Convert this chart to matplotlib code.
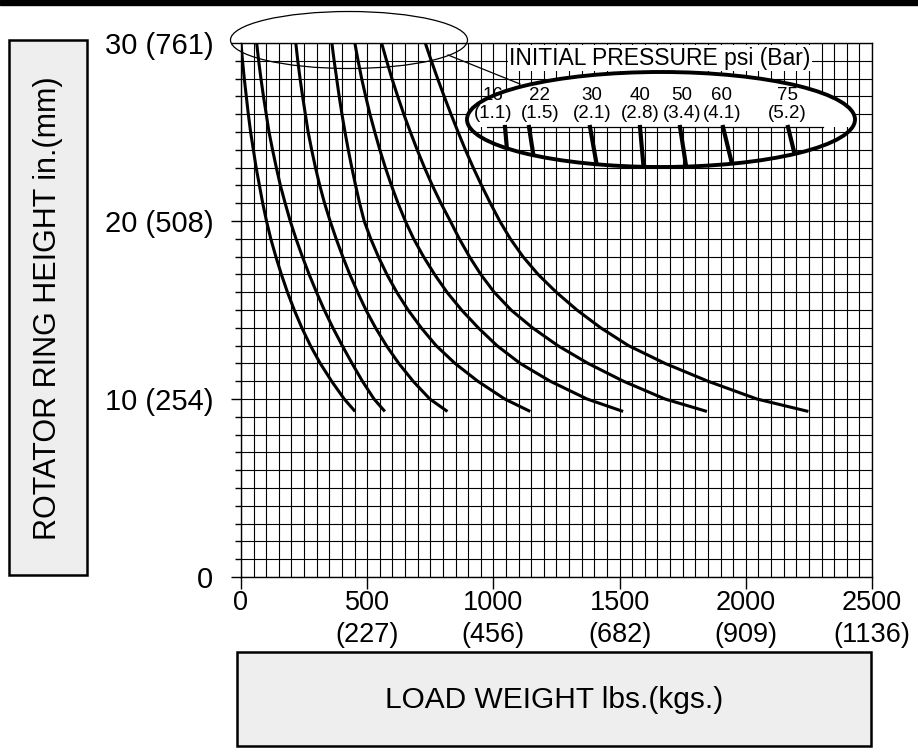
import matplotlib
matplotlib.use("Agg")
import matplotlib.pyplot as plt
from matplotlib.patches import Ellipse, Rectangle
from matplotlib.ticker import MultipleLocator

plt.rcParams['font.family'] = ['Liberation Sans', 'DejaVu Sans']

heights = [30, 29, 28, 27, 26, 25, 24, 23, 22, 21, 20,
           19, 18, 17, 16, 15, 14, 13, 12, 11, 10, 9.3]

# load weight (lbs) for each initial pressure
load_16 = [0, 6, 13, 21, 29, 38, 49, 60, 73, 86, 101,
           118, 138, 160, 184, 211, 241, 275, 314, 359, 409, 452]
load_22 = [62, 70, 79, 89, 100, 111, 125, 140, 156, 175, 195,
           218, 243, 270, 299, 330, 364, 401, 440, 481, 527, 570]
load_30 = [217, 225, 234, 244, 255, 266, 280, 295, 312, 331, 353,
           377, 403, 431, 462, 495, 533, 576, 625, 682, 748, 818]
load_40 = [360, 369, 379, 389, 400, 412, 425, 439, 454, 470, 488,
           514, 544, 578, 617, 662, 714, 773, 848, 938, 1045, 1146]
load_50 = [451, 464, 478, 494, 511, 530, 550, 572, 596, 622, 651,
           684, 723, 767, 816, 874, 940, 1014, 1106, 1225, 1371, 1514]
load_60 = [557, 577, 598, 621, 645, 671, 698, 727, 758, 792, 829,
           865, 905, 950, 1003, 1070, 1155, 1255, 1375, 1515, 1680, 1846]
load_75 = [730, 754, 779, 805, 832, 860, 889, 920, 953, 988, 1025,
           1067, 1117, 1177, 1249, 1331, 1425, 1535, 1680, 1850, 2044, 2248]
curves = [load_16, load_22, load_30, load_40, load_50, load_60, load_75]

psi_labels = ['16', '22', '30', '40', '50', '60', '75']
bar_labels = ['(1.1)', '(1.5)', '(2.1)', '(2.8)', '(3.4)', '(4.1)', '(5.2)']

x_ticks = [0, 500, 1000, 1500, 2000, 2500]
x_tick_labels = ['0', '500\n(227)', '1000\n(456)', '1500\n(682)', '2000\n(909)', '2500\n(1136)']
y_ticks = [0, 10, 20, 30]
y_tick_labels = ['0', '10 (254)', '20 (508)', '30 (761)']

W, H = 918, 754
fig = plt.figure(figsize=(W / 100, H / 100), dpi=100)
ax = fig.add_axes([241 / W, 1 - 577 / H, 631 / W, 534 / H])

for loads in curves:
    ax.plot(loads, heights, color='black', lw=2.2, solid_capstyle='butt',
            solid_joinstyle='round', zorder=3)

ax.set_xlim(0, 2500)
ax.set_ylim(0, 30)
ax.set_xticks(x_ticks)
ax.set_xticklabels(x_tick_labels, fontsize=19.5, linespacing=1.3)
ax.set_yticks(y_ticks)
ax.set_yticklabels(y_tick_labels, fontsize=21)
ax.xaxis.set_minor_locator(MultipleLocator(50))
ax.yaxis.set_minor_locator(MultipleLocator(1))
ax.tick_params(axis='x', which='major', length=8.5, width=1, pad=0.5)
ax.tick_params(axis='x', which='minor', length=0)
ax.tick_params(axis='y', which='major', length=7, width=1, pad=13)
ax.tick_params(axis='y', which='minor', length=4.5, width=1)
ax.grid(which='both', color='black', lw=0.8)
ax.set_axisbelow(True)
for s in ax.spines.values():
    s.set_linewidth(1)

# overlay in pixel coordinates for boxes and the magnifier callout
ov = fig.add_axes([0, 0, 1, 1], zorder=5)
ov.set_xlim(0, W)
ov.set_ylim(H, 0)
ov.axis('off')
ov.patch.set_alpha(0)

ov.add_patch(Rectangle((0, 0), W, 5, color='black'))

ov.add_patch(Rectangle((9, 40), 78, 535, facecolor='#eeeeee', edgecolor='black', lw=1.8))
ov.text(48, 308, 'ROTATOR RING HEIGHT in.(mm)', rotation=90, ha='center', va='center', fontsize=22)
ov.add_patch(Rectangle((237, 652), 634, 94, facecolor='#eeeeee', edgecolor='black', lw=1.8))
ov.text(554, 700, 'LOAD WEIGHT lbs.(kgs.)', ha='center', va='center', fontsize=21.5)

# small ellipse around curve tops
ov.add_patch(Ellipse((349, 40), 237, 57, fill=False, edgecolor='black', lw=0.9))
ov.plot([448, 520], [55, 84], color='black', lw=0.9)

ov.text(660, 58, 'INITIAL PRESSURE psi (Bar)', ha='center', va='center', fontsize=16.5,
        bbox=dict(boxstyle='square,pad=0.05', facecolor='white', edgecolor='none'))

mag = Ellipse((661, 119.5), 388, 95, fill=False, edgecolor='black', lw=2.8, zorder=4)
ov.add_patch(mag)
clip = Ellipse((661, 119.5), 388, 95, transform=ov.transData)
white = Rectangle((460, 60), 400, 67, facecolor='white', edgecolor='none', zorder=2)
ov.add_patch(white)
white.set_clip_path(clip)
ov.plot([487, 823], [127, 127], color='black', lw=0.9, zorder=3)

seg_top = [505, 529, 590, 640, 680, 723, 788]
seg_bot = [509, 536, 598, 644, 687, 734, 799]
for xt, xb in zip(seg_top, seg_bot):
    ln, = ov.plot([xt, xb], [127, 172], color='black', lw=3, zorder=3)
    ln.set_clip_path(clip)

label_x = [493, 540, 592, 640, 682, 722, 787]
for xp, p, b in zip(label_x, psi_labels, bar_labels):
    ov.text(xp, 104, p, ha='center', va='bottom', fontsize=13.5, zorder=5)
    ov.text(xp, 104.5, b, ha='center', va='top', fontsize=13.5, zorder=5)

fig.savefig('out.png', dpi=100)
